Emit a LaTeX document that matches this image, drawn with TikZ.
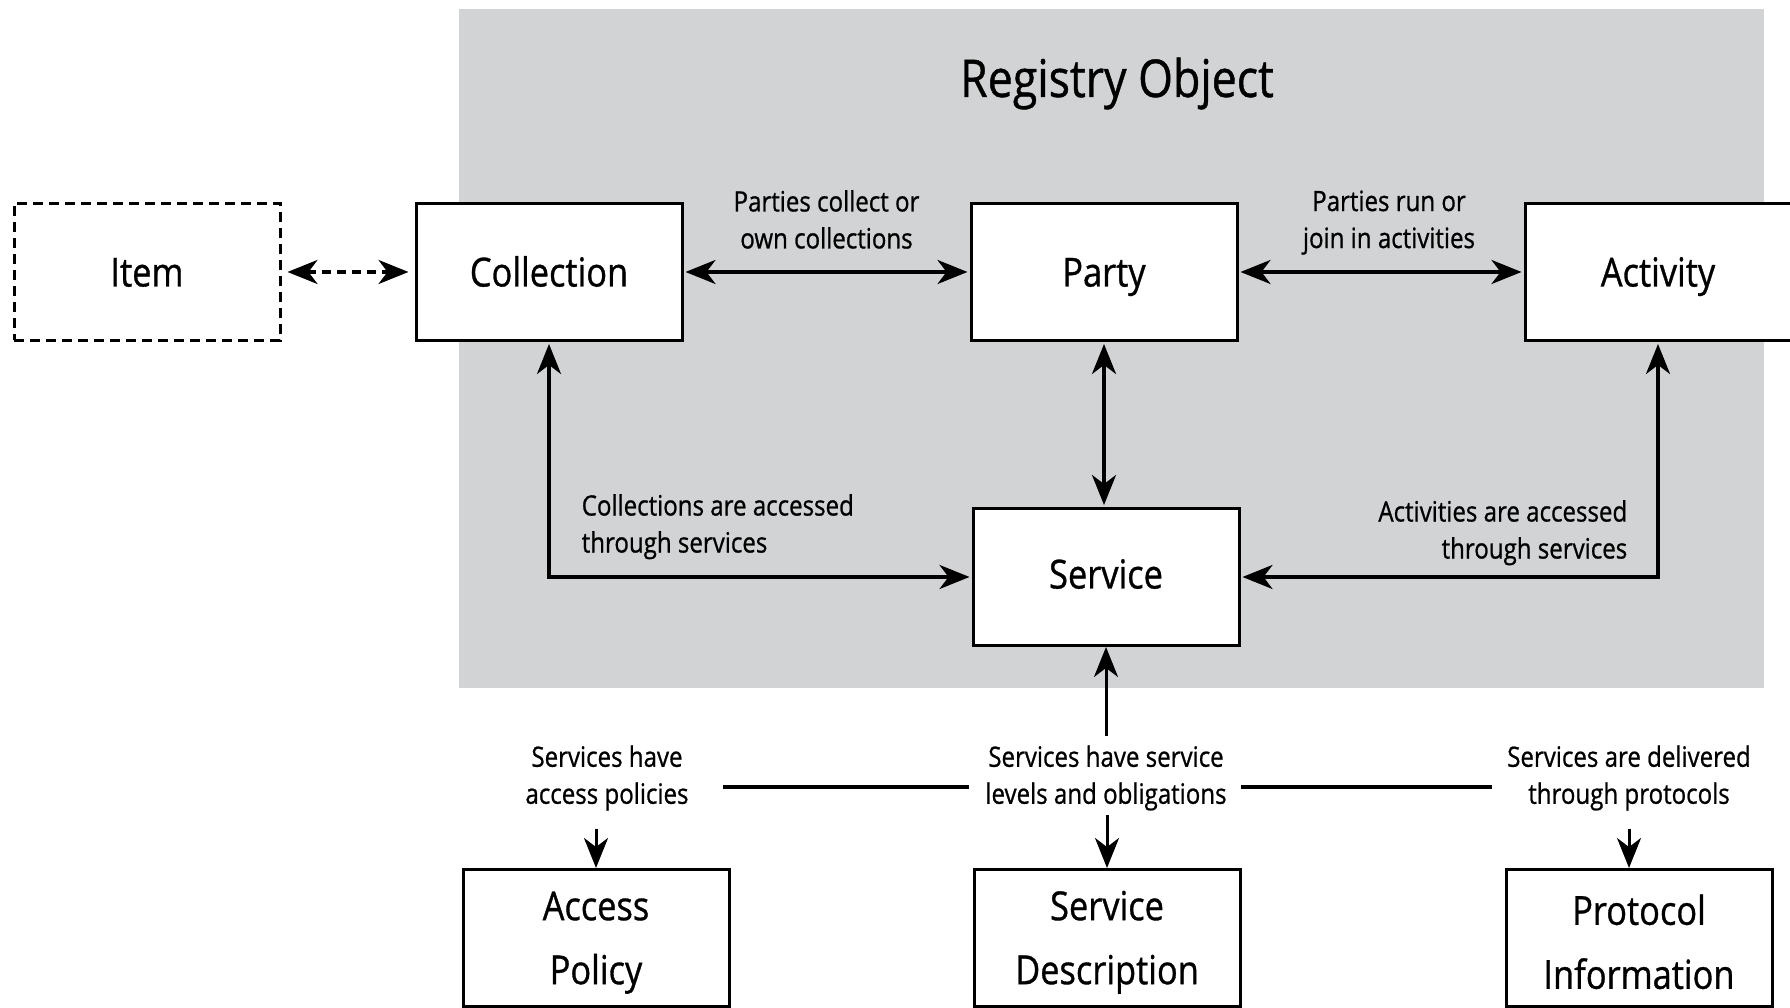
\documentclass[tikz,border=0pt]{standalone}
\usepackage{fontspec}
\newfontfamily\diagfont{Open Sans}[FakeStretch = 0.86, FakeBold = 0.8]
\usetikzlibrary{arrows.meta}
\definecolor{registrygray}{RGB}{209,211,212}

\begin{document}
\begin{tikzpicture}[x = 1pt, y = 1pt,
  >= {Stealth[length = 30pt, width = 24pt, inset = 9pt]},
  entity/.style = {draw, line width = 3pt, fill = white, minimum width = 266pt, minimum height = 137pt,
    inner ysep = 2pt, text height = 32pt, text depth = 3pt,
    align = center, font = \diagfont\fontsize{40}{64}\selectfont},
  stack/.style = {entity, text height = {}, text depth = {}},
  note/.style = {inner sep = 0pt, align = center, font = \diagfont\fontsize{28}{37}\selectfont},
  link/.style = {line width = 3.5pt, <->, shorten <= 2pt, shorten >= 2pt},
  pointer/.style = {line width = 3pt, ->},
  bar/.style = {line width = 3.5pt}]
\useasboundingbox (0, 0) rectangle (1790, 1008);
\fill[registrygray] (459, 320) rectangle (1764, 999);
\node[font = \diagfont\fontsize{52}{60}\selectfont, anchor = base] (title) at (1117, 911) {Registry Object};

\node[entity, dash pattern = on 10pt off 6pt] (item) at (147, 736) {Item};
\node[entity] (collection) at (549, 736) {Collection};
\node[entity] (party) at (1104, 736) {Party};
\node[entity] (activity) at (1658, 736) {Activity};
\node[entity, text height = 26pt] (service) at (1106, 431) {Service};
\node[stack] (policy) at (596, 70) {\rule{0pt}{38pt}Access\\Policy};
\node[stack] (description) at (1107, 70) {\rule{0pt}{38pt}Service\\Description};
\node[stack] (protocol) at (1639, 70) {\rule{0pt}{38pt}Protocol\\Information};

\draw[link, dash pattern = on 9pt off 6pt, shorten <= 6pt, shorten >= 6pt] (item) -- (collection);
\draw[link] (collection) -- node[note, above = 21.5pt] {Parties collect or\\own collections} (party);
\draw[link] (party) -- node[note, above = 15.5pt, xshift = 8pt] {Parties run or\\join in activities} (activity);
\draw[link] (party) -- (party |- service.north);
\draw[link] (collection) |- node[note, align = left, anchor = south west, pos = 0.5, xshift = 31pt, yshift = 16pt]
  {Collections are accessed\\through services} (service);
\draw[link] (activity) |- node[note, align = right, anchor = south east, pos = 0.5, xshift = -29pt, yshift = 10pt]
  {Activities are accessed\\through services} (service);

\node[note] (acclbl) at (607, 230) {Services have\\access policies};
\node[note] (svclbl) at (1106, 230) {Services have service\\levels and obligations};
\node[note] (prolbl) at (1629, 230) {Services are delivered\\through protocols};

\draw[pointer, shorten <= 9pt] (svclbl.north) -- (svclbl.north |- service.south);
\draw[bar] ([xshift = 34pt, yshift = -9pt]acclbl.east) -- ([xshift = -16pt, yshift = -9pt]svclbl.west);
\draw[bar] ([xshift = 14pt, yshift = -9pt]svclbl.east) -- ([xshift = -15pt, yshift = -9pt]prolbl.west);
\draw[pointer, shorten <= 18pt] (acclbl.south -| policy.north) -- (policy.north);
\draw[pointer, shorten <= 4pt] (svclbl.south -| description.north) -- (description.north);
\draw[pointer, shorten <= 18pt] (prolbl.south) -- (prolbl.south |- protocol.north);
\end{tikzpicture}
\end{document}
